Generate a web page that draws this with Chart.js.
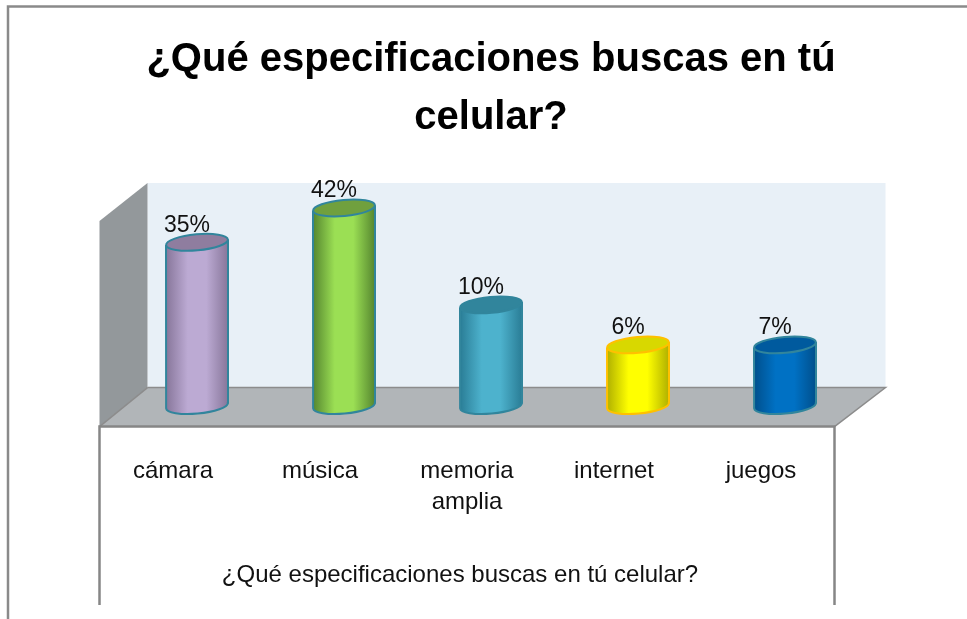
<!DOCTYPE html>
<html><head><meta charset="utf-8">
<style>html,body{margin:0;padding:0;background:#fff}canvas{display:block}</style>
<script src="https://cdn.jsdelivr.net/npm/chart.js@4"></script>
</head><body><canvas id="c" width="967" height="619"></canvas>
<script>
const titleLines = ['¿Qué especificaciones buscas en tú', 'celular?'];
const axisTitle = '¿Qué especificaciones buscas en tú celular?';
const categories = ['cámara', 'música', ['memoria', 'amplia'], 'internet', 'juegos'];
// Printed labels of the reference; its drawn bar heights do not follow them,
// so the heights are read separately from the picture.
const percentLabels = ['35%', '42%', '10%', '6%', '7%'];
const barHeights = [34.7, 42, 21.4, 12.9, 12.9];
const sideColors = ['#87769a', '#55862f', '#2a7d96', '#b0b000', '#004f8c'];
const midColors = ['#bcaad3', '#9bdf54', '#4db2cd', '#ffff00', '#0071c4'];
const topColors = ['#8f7d9f', '#70a03e', '#31859c', '#d8d800', '#005a9e'];
const rimColors = ['#31859c', '#31859c', '#31859c', '#ffc000', '#31859c'];

const FONT = '"Liberation Sans", Arial, sans-serif';
const DEPTH_X = 48, DEPTH_Y = -39, TILT = -0.09, BAR_W = 62;

function barGradient(ctx, left, right, i) {
  const g = ctx.createLinearGradient(left, 0, right, 0);
  g.addColorStop(0, sideColors[i]);
  g.addColorStop(0.35, midColors[i]);
  g.addColorStop(0.65, midColors[i]);
  g.addColorStop(1, sideColors[i]);
  return g;
}

const poly = (ctx, pts, fill) => {
  ctx.beginPath();
  pts.forEach((p, i) => i ? ctx.lineTo(p[0], p[1]) : ctx.moveTo(p[0], p[1]));
  ctx.closePath();
  ctx.fillStyle = fill;
  ctx.fill();
};

const scene = {
  id: 'scene',
  beforeDatasetsDraw(chart) {
    const { ctx, chartArea: a } = chart;
    const fl = a.left - 24, fr = a.right - 24, fy = a.bottom + 21;
    const bl = fl + DEPTH_X, br = fr + DEPTH_X + 3, by = fy + DEPTH_Y, ty = a.top;
    ctx.save();
    // white card frame
    ctx.strokeStyle = '#8a8a8a';
    ctx.lineWidth = 2.5;
    ctx.beginPath();
    ctx.moveTo(8, 619); ctx.lineTo(8, 6.5); ctx.lineTo(967, 6.5);
    ctx.stroke();
    // back wall
    poly(ctx, [[bl, ty], [br, ty], [br, by], [bl, by]], '#e8f0f7');
    // side wall
    poly(ctx, [[fl, ty + 38], [bl, ty], [bl, by], [fl, fy]], '#93989b');
    // floor
    poly(ctx, [[bl, by], [br, by], [fr, fy], [fl, fy]], '#b1b5b8');
    ctx.strokeStyle = '#8c8c8c';
    ctx.lineWidth = 1.5;
    ctx.beginPath();
    ctx.moveTo(bl, by); ctx.lineTo(br, by); ctx.lineTo(fr, fy);
    ctx.moveTo(bl, by); ctx.lineTo(fl, fy);
    ctx.stroke();
    // front axis box
    ctx.strokeStyle = '#868686';
    ctx.lineWidth = 2.5;
    ctx.beginPath();
    ctx.moveTo(fl, 605); ctx.lineTo(fl, fy); ctx.lineTo(fr, fy); ctx.lineTo(fr, 605);
    ctx.stroke();
    ctx.restore();
    // clip the square bar tops to the tilted cylinder silhouette
    const bars = chart.getDatasetMeta(0).data;
    ctx.save();
    ctx.beginPath();
    bars.forEach(b => {
      const l = b.x - b.width / 2, r = b.x + b.width / 2, d = b.width / 2 * TILT;
      ctx.moveTo(l, b.y - d); ctx.lineTo(r, b.y + d);
      ctx.lineTo(r, b.base); ctx.lineTo(l, b.base);
      ctx.closePath();
    });
    ctx.clip();
  },
  afterDatasetsDraw(chart) {
    const { ctx } = chart;
    ctx.restore();
    const bars = chart.getDatasetMeta(0).data;
    bars.forEach((b, i) => {
      const w = b.width / 2, l = b.x - w, r = b.x + w, d = w * TILT, ang = Math.atan(TILT), ry = 8;
      ctx.save();
      // bottom cap: body continues down to the lower half of the ellipse
      ctx.beginPath();
      ctx.moveTo(r, b.base + d);
      ctx.ellipse(b.x, b.base, w, ry, ang, 0, Math.PI);
      ctx.lineTo(l, b.base - 8);
      ctx.lineTo(r, b.base - 8);
      ctx.closePath();
      ctx.fillStyle = barGradient(ctx, l, r, i);
      ctx.fill();
      // outline of the body
      ctx.strokeStyle = rimColors[i];
      ctx.lineWidth = 2;
      ctx.beginPath();
      ctx.moveTo(r, b.y + d);
      ctx.lineTo(r, b.base + d);
      ctx.ellipse(b.x, b.base, w, ry, ang, 0, Math.PI);
      ctx.lineTo(l, b.y - d);
      ctx.stroke();
      // top cap
      ctx.beginPath();
      ctx.ellipse(b.x, b.y, w, ry, ang, 0, Math.PI * 2);
      ctx.fillStyle = topColors[i];
      ctx.fill();
      ctx.stroke();
      ctx.restore();
      // printed value label
      ctx.save();
      ctx.font = '23px ' + FONT;
      ctx.fillStyle = '#111';
      ctx.textAlign = 'center';
      ctx.textBaseline = 'middle';
      ctx.fillText(percentLabels[i], b.x - 10, b.y - 17);
      ctx.restore();
    });
  },
  afterDraw(chart) {
    const { ctx } = chart;
    ctx.save();
    ctx.font = '24px ' + FONT;
    ctx.fillStyle = '#111';
    ctx.textAlign = 'center';
    ctx.textBaseline = 'middle';
    ctx.fillText(axisTitle, 460, 575);
    ctx.restore();
  }
};

const el = document.getElementById('c');
new Chart(el, {
  type: 'bar',
  data: {
    labels: categories,
    datasets: [{
      data: barHeights,
      backgroundColor: c => {
        const i = c.dataIndex;
        const sx = c.chart.scales && c.chart.scales.x;
        if (i === undefined || !sx) return midColors[i || 0];
        const bx = sx.getPixelForValue(i);
        return isFinite(bx) ? barGradient(c.chart.ctx, bx - BAR_W / 2, bx + BAR_W / 2, i) : midColors[i];
      },
      borderWidth: 0,
      barThickness: BAR_W
    }]
  },
  options: {
    responsive: false,
    animation: false,
    layout: { padding: { left: 123.5, right: 108.5, top: 0, bottom: 59 } },
    plugins: {
      legend: { display: false },
      tooltip: { enabled: false },
      title: {
        display: true,
        text: titleLines,
        font: { family: FONT, size: 40, weight: 'bold', lineHeight: 1.45 },
        color: '#000',
        padding: { top: 31, bottom: 36 }
      }
    },
    scales: {
      x: {
        grid: { display: false },
        border: { display: false },
        ticks: {
          maxRotation: 0,
          autoSkip: false,
          font: { family: FONT, size: 24, lineHeight: 1.3 },
          color: '#111',
          labelOffset: -24,
          padding: 42
        }
      },
      y: {
        display: false,
        min: 0,
        max: 47.3
      }
    }
  },
  plugins: [scene]
});
</script></body></html>
